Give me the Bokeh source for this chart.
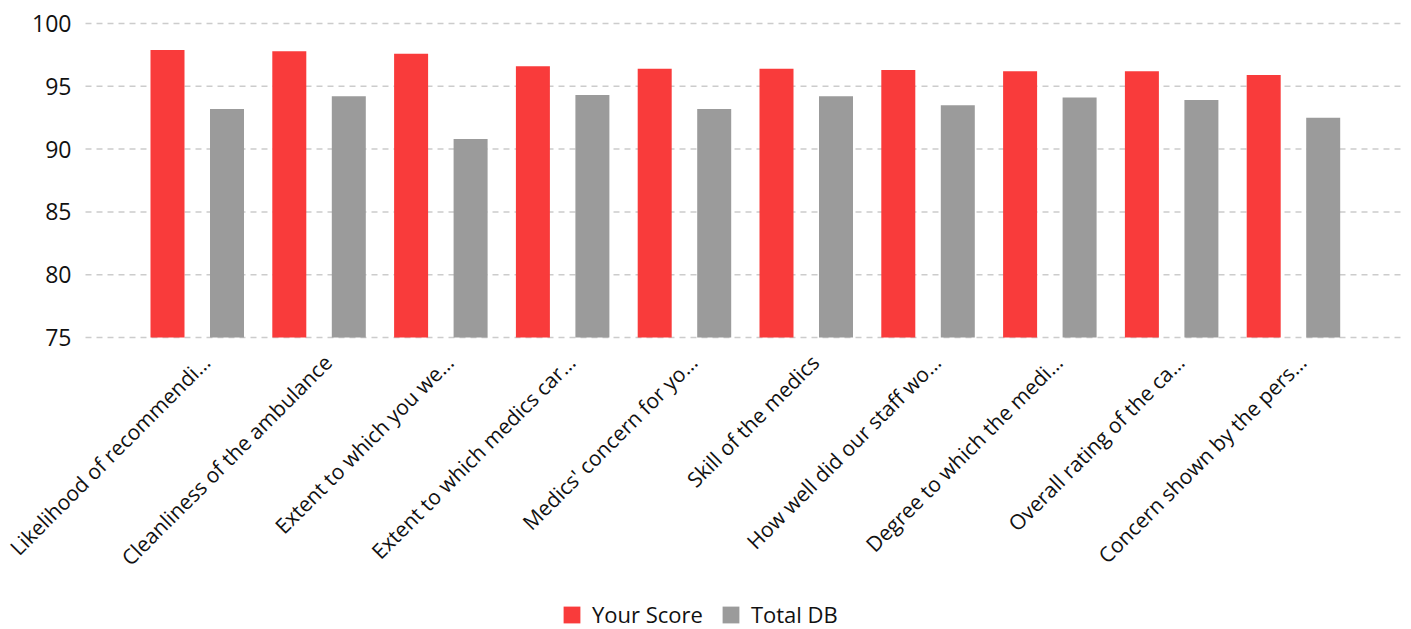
from bokeh.plotting import figure
from bokeh.models import ColumnDataSource, Range1d, Legend, LegendItem
from bokeh.transform import dodge
from bokeh.embed import file_html
from bokeh.resources import INLINE
import math

categories = [
    "Likelihood of recommendi\u2026",
    "Cleanliness of the ambulance",
    "Extent to which you we\u2026",
    "Extent to which medics car\u2026",
    "Medics' concern for yo\u2026",
    "Skill of the medics",
    "How well did our staff wo\u2026",
    "Degree to which the medi\u2026",
    "Overall rating of the ca\u2026",
    "Concern shown by the pers\u2026",
]
your_score = [97.9, 97.8, 97.6, 96.6, 96.4, 96.4, 96.3, 96.2, 96.2, 95.9]
total_db = [93.2, 94.2, 90.8, 94.3, 93.2, 94.2, 93.5, 94.1, 93.9, 92.5]
y_ticks = [75, 80, 85, 90, 95, 100]

RED = "#f93b3b"
GRAY = "#9b9b9b"
FONT = "Open Sans"

# ---- layout constants (pixels) ----
FRAME_W = 1402        # frame spans the full width so rotated labels are never clipped
FRAME_H = 629         # frame spans the full height (labels, legend inside)
STEP = 121.8          # pixels per category
ANCHOR0 = 205.6       # pixel of the first category's label anchor
PLOT_LEFT = 85        # pixel where the plotting band (grid) starts
PLOT_TOP = 23         # pixel of the 100 line
Y_MIN, Y_MAX = 75, 100
PLOT_H = 314          # pixel height of the 75..100 band

px_per_unit = PLOT_H / (Y_MAX - Y_MIN)
x_start = -ANCHOR0 / STEP
x_end = (FRAME_W - ANCHOR0) / STEP
x_left = (PLOT_LEFT - ANCHOR0) / STEP
y_end = Y_MAX + PLOT_TOP / px_per_unit
y_start = Y_MAX - (FRAME_H - PLOT_TOP) / px_per_unit

idx = list(range(len(categories)))
src = ColumnDataSource(dict(idx=idx, cat=categories, ys=your_score, db=total_db))

p = figure(
    x_range=Range1d(x_start, x_end),
    y_range=Range1d(y_start, y_end),
    frame_width=FRAME_W, frame_height=FRAME_H,
    output_backend="svg", toolbar_location=None,
    min_border_left=0, min_border_top=0, min_border_right=1, min_border_bottom=0,
)
p.xgrid.visible = False
p.ygrid.visible = False
p.outline_line_color = None

# dashed horizontal grid lines at the y ticks, across the plotting band
p.segment(x0=x_left, x1=x_end, y0=y_ticks, y1=y_ticks,
          line_color="#cccccc", line_dash="6 5", line_width=1.5)

r1 = p.vbar(x=dodge("idx", (167 - ANCHOR0) / STEP), top="ys", bottom=Y_MIN, width=34 / STEP,
            source=src, fill_color=RED, line_color=None)
r2 = p.vbar(x=dodge("idx", (226.5 - ANCHOR0) / STEP), top="db", bottom=Y_MIN, width=34 / STEP,
            source=src, fill_color=GRAY, line_color=None)

# value axis pinned at the left edge of the plotting band
p.yaxis.fixed_location = x_left
p.yaxis.ticker = y_ticks
p.yaxis.axis_line_color = None
p.yaxis.major_tick_line_color = None
p.yaxis.minor_tick_line_color = None
p.yaxis.major_label_text_font = FONT
p.yaxis.major_label_text_font_size = "23px"
p.yaxis.major_label_text_color = "#111111"
p.yaxis.major_label_standoff = 8

# category axis pinned at the 75 baseline
p.xaxis.fixed_location = Y_MIN
p.xaxis.ticker = idx
p.xaxis.major_label_overrides = dict(zip(idx, categories))
p.xaxis.axis_line_color = None
p.xaxis.major_tick_line_color = None
p.xaxis.minor_tick_line_color = None
p.xaxis.major_label_orientation = math.pi / 4
p.xaxis.major_label_text_font = FONT
p.xaxis.major_label_text_font_size = "21px"
p.xaxis.major_label_text_color = "#111111"
p.xaxis.major_label_standoff = 15

legend = Legend(
    items=[LegendItem(label="Your Score", renderers=[r1]),
           LegendItem(label="Total DB", renderers=[r2])],
    orientation="horizontal", location=(561, 0),
    border_line_color=None, background_fill_alpha=0,
    label_text_font=FONT, label_text_font_size="22px", label_text_color="#111111",
    label_text_line_height=1.0, label_height=21,
    glyph_width=21, glyph_height=21, spacing=17, label_standoff=10,
    padding=0, margin=0,
)
p.add_layout(legend, "center")

open("out.html", "w").write(file_html(p, INLINE))
